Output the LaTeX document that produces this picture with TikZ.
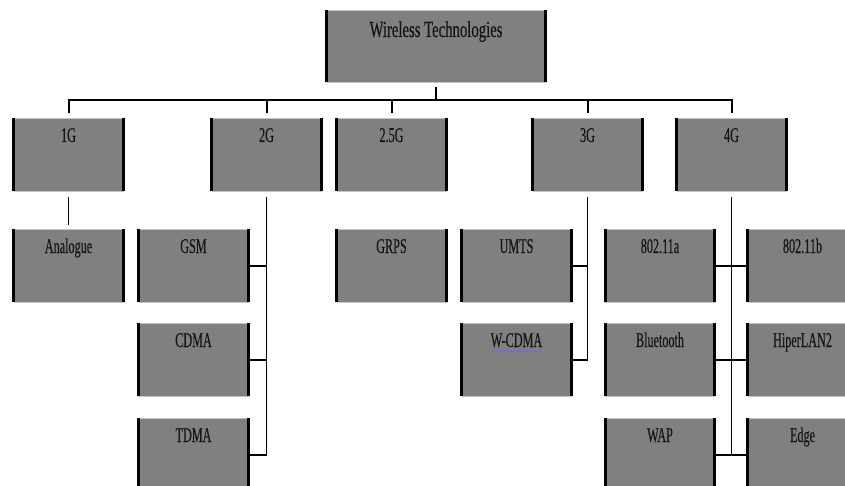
\documentclass[tikz,border=0pt]{standalone}
\usepackage{graphicx}
\usepackage{fontspec}
\setmainfont{Liberation Serif}
\usetikzlibrary{decorations.pathmorphing}
\definecolor{boxgray}{RGB}{128,128,128}
\definecolor{edgegray}{RGB}{196,196,196}
\definecolor{txt}{RGB}{20,20,20}
\newcommand{\sqz}[2]{\scalebox{#1}[1]{\addfontfeature{FakeBold=0.35}#2}}
\begin{document}
\begin{tikzpicture}[x=1pt,y=-1pt,
  box/.style={fill=boxgray, draw=edgegray, line width=0.8pt, inner sep=0pt,
    minimum width=109pt, text height=24pt, text depth=49pt,
    font=\fontsize{21}{21}\selectfont, text=txt},
  titlebox/.style={box, minimum width=218pt, text height=27pt, text depth=45pt,
    font=\fontsize{23}{23}\selectfont},
  bar/.style={line width=3pt, black},
  conn/.style={line width=2pt, black},
  vconn/.style={line width=1.3pt, black},
  thinconn/.style={line width=1.1pt, black},
  squiggle/.style={blue!60, line width=0.6pt, decorate,
    decoration={snake, amplitude=0.7pt, segment length=3pt}}]
\useasboundingbox (0,0) rectangle (845,486);
\clip (0,0) rectangle (845,486);

% title
\node[titlebox] (title) at (436,46) {\sqz{0.64}{Wireless Technologies}};
% generations
\node[box] (g1)  at (68.5,154.5)  {\sqz{0.58}{1G}};
\node[box] (g2)  at (266.5,154.5) {\sqz{0.58}{2G}};
\node[box] (g25) at (391.5,154.5) {\sqz{0.58}{2.5G}};
\node[box] (g3)  at (587.5,154.5) {\sqz{0.58}{3G}};
\node[box] (g4)  at (731.5,154.5) {\sqz{0.58}{4G}};
% row 2
\node[box] (ana)   at (68.5,265.5)  {\sqz{0.58}{Analogue}};
\node[box] (gsm)   at (193.5,265.5) {\sqz{0.58}{GSM}};
\node[box] (grps)  at (391.5,265.5) {\sqz{0.58}{GRPS}};
\node[box] (umts)  at (516.5,265.5) {\sqz{0.58}{UMTS}};
\node[box] (wa)    at (660,265.5)   {\sqz{0.58}{802.11a}};
\node[box] (wb)    at (802.5,265.5) {\sqz{0.58}{802.11b}};
% row 3
\node[box] (cdma)  at (193.5,359.5) {\sqz{0.58}{CDMA}};
\node[box] (wcdma) at (516.5,359.5) {\sqz{0.58}{W-CDMA}};
\node[box] (bt)    at (660,359.5)   {\sqz{0.58}{Bluetooth}};
\node[box] (hl)    at (802.5,359.5) {\sqz{0.58}{HiperLAN2}};
% row 4
\node[box] (tdma)  at (193.5,454.5) {\sqz{0.58}{TDMA}};
\node[box] (wap)   at (660,454.5)   {\sqz{0.58}{WAP}};
\node[box] (edge)  at (802.5,454.5) {\sqz{0.58}{Edge}};

% spell-check squiggle under W-CDMA
\draw[squiggle] ([shift={(-24pt,-29pt)}]wcdma.north) -- ([shift={(24pt,-29pt)}]wcdma.north);

% bus
\coordinate (bus) at (436,100);
\draw[conn] ([yshift=-5pt]title.south) -- (title.south |- bus);
\draw[conn] ([yshift=5pt]g1.north) -- (g1.north |- bus) -- (g4.north |- bus) -- ([yshift=5pt]g4.north);
\foreach \n in {g2,g25,g3}
  \draw[conn] (\n.north |- bus) -- ([yshift=5pt]\n.north);

% 1G
\draw[thinconn] ([yshift=-6pt]g1.south) -- ([yshift=4pt]ana.north);
% 2G
\draw[vconn] ([yshift=-6pt]g2.south) -- (g2.south |- tdma.east);
\foreach \n in {gsm,cdma,tdma}
  \draw[conn] (\n.east) -- ([xshift=0.65pt]g2.south |- \n.east);
% 3G
\draw[vconn] ([yshift=-6pt]g3.south) -- (g3.south |- wcdma.east);
\foreach \n in {umts,wcdma}
  \draw[conn] (\n.east) -- ([xshift=0.65pt]g3.south |- \n.east);
% 4G
\draw[vconn] ([yshift=-6pt]g4.south) -- (g4.south |- wap.east);
\draw[conn] (wa.east) -- (wb.west);
\draw[conn] (bt.east) -- (hl.west);
\draw[conn] (wap.east) -- (edge.west);

% side bars of boxes
\foreach \n in {title,g1,g2,g25,g3,g4,ana,gsm,grps,umts,wa,wb,cdma,wcdma,bt,hl,tdma,wap,edge}
  \draw[bar] (\n.north west) -- (\n.south west) (\n.north east) -- (\n.south east);
\end{tikzpicture}
\end{document}
